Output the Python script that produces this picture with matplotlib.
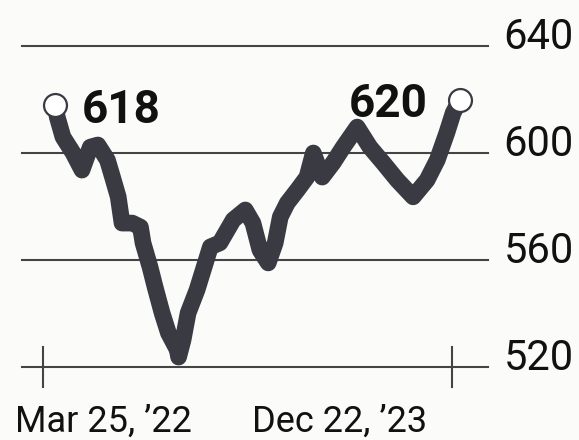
import pandas as pd
import matplotlib
matplotlib.use("Agg")
from matplotlib import pyplot as plt

# weekly-ish readings
dates = ["2022-03-25", "2022-03-28", "2022-04-06", "2022-04-22", "2022-05-06",
         "2022-05-19", "2022-05-31", "2022-06-15", "2022-06-23", "2022-07-02",
         "2022-07-08", "2022-07-24", "2022-08-06", "2022-08-10", "2022-08-21",
         "2022-08-29", "2022-09-09", "2022-09-19", "2022-10-03", "2022-10-05",
         "2022-10-12", "2022-10-20", "2022-11-03", "2022-11-24", "2022-12-09",
         "2022-12-30", "2023-01-18", "2023-01-30", "2023-02-10", "2023-02-23",
         "2023-03-06", "2023-03-14", "2023-03-25", "2023-04-10", "2023-04-25",
         "2023-05-05", "2023-05-19", "2023-06-05", "2023-06-21", "2023-07-13",
         "2023-08-02", "2023-08-23", "2023-09-14", "2023-10-09", "2023-10-31",
         "2023-11-16", "2023-12-01", "2023-12-11", "2023-12-22"]
values = [618, 613.5, 606, 600, 593.6,
          602.2, 603, 597.4, 591, 583.6,
          573.8, 573.8, 572.3, 566.4, 557.4,
          549.9, 540.2, 532.7, 526.4, 523.7,
          530.1, 540.2, 548.8, 564.9, 566.4,
          575, 578.7, 573.8, 563.7, 558.9,
          566.4, 576.1, 581.3, 586.2, 591,
          600, 591, 596.3, 602.2, 609.7,
          602.2, 596.3, 589.9, 583.6, 589.9,
          597.4, 607.5, 615, 620]
y_ticks = [520, 560, 600, 640]
x_labels = ["Mar 25, \u201922", "Dec 22, \u201923"]

x = pd.to_datetime(dates)
ink = "#3a3a42"

fig = plt.figure(figsize=(5.79, 4.4), dpi=100)
fig.patch.set_facecolor("#fbfbfa")
ax = fig.add_axes([0, 0, 1, 1])
ax.set_facecolor("#fbfbfa")
ax.set_xlim(pd.Timestamp("2021-12-28"), pd.Timestamp("2024-06-26"))
ax.set_ylim(492.7, 657.2)
ax.axis("off")

# grid lines + right-side labels
for v in y_ticks:
    ax.plot([pd.Timestamp("2022-02-01"), pd.Timestamp("2024-02-04")], [v, v],
            color="#444444", lw=1.5, zorder=1)
    ax.text(pd.Timestamp("2024-02-28"), v - 1, str(v), ha="left", va="baseline",
            fontsize=30, family="Roboto", color="#111111")

# x ticks
for t in ["2022-03-06", "2023-12-09"]:
    ax.plot([pd.Timestamp(t)] * 2, [512.5, 527.5], color="#444444", lw=1.5, zorder=1)

ax.plot(x, values, color=ink, lw=12, solid_capstyle="round",
        solid_joinstyle="round", zorder=3)
ax.plot([x[0], x[-1]], [values[0], values[-1]], ls="none", marker="o", ms=16.5,
        mfc="white", mec=ink, mew=1.6, zorder=4)

ax.text(pd.Timestamp("2022-05-06"), 611.2, f"{values[0]:g}", ha="left", va="baseline",
        fontsize=33, fontweight="bold", family="Roboto", color="#111111")
ax.text(pd.Timestamp("2023-11-01"), 613.5, f"{values[-1]:g}", ha="right", va="baseline",
        fontsize=33, fontweight="bold", family="Roboto", color="#111111")

ax.text(pd.Timestamp("2022-01-21"), 495.7, x_labels[0], ha="left", va="baseline",
        fontsize=26, family="Roboto", color="#111111")
ax.text(pd.Timestamp("2023-10-31"), 495.7, x_labels[1], ha="right", va="baseline",
        fontsize=26, family="Roboto", color="#111111")

fig.savefig("out.png", dpi=100, facecolor=fig.get_facecolor())
